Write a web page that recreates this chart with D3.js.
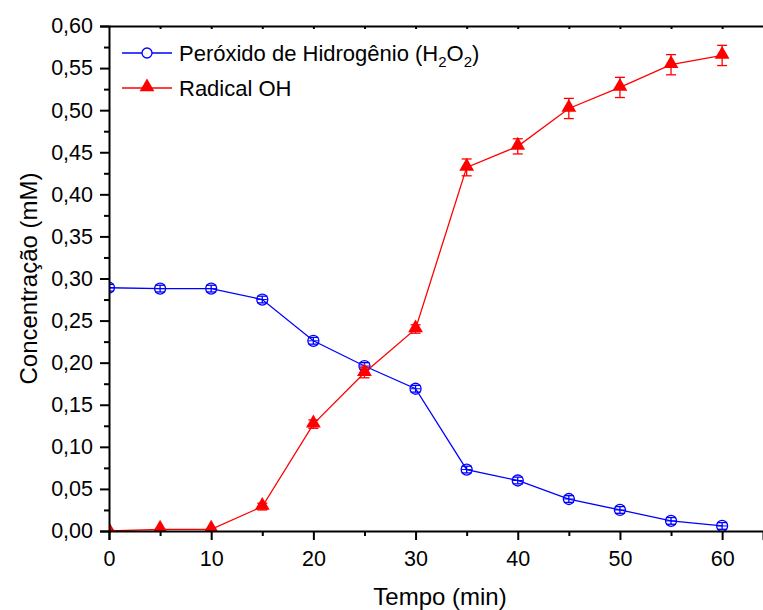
<!DOCTYPE html>
<html>
<head>
<meta charset="utf-8">
<script src="https://cdn.jsdelivr.net/npm/d3@7"></script>
<style>
  body { margin: 0; background: #fff; }
  svg text { font-family: "Liberation Sans", Arial, sans-serif; fill: #000; }
</style>
</head>
<body>
<div id="chart"></div>
<script>
(function () {
    'use strict';

    var tempo = [0, 5, 10, 15, 20, 25, 30, 35, 40, 45, 50, 55, 60];
    var h2o2 = [0.289, 0.288, 0.288, 0.275, 0.226, 0.196, 0.169, 0.073, 0.060, 0.038, 0.025, 0.012, 0.006];
    var h2o2Err = [0.004, 0.004, 0.004, 0.004, 0.004, 0.004, 0.004, 0.004, 0.004, 0.004, 0.004, 0.004, 0.004];
    var oh = [0.000, 0.002, 0.002, 0.029, 0.127, 0.188, 0.240, 0.432, 0.457, 0.502, 0.527, 0.554, 0.565];
    var ohErr = [0.001, 0.001, 0.001, 0.004, 0.005, 0.006, 0.005, 0.010, 0.009, 0.012, 0.012, 0.012, 0.012];
    var xTicks = [0, 10, 20, 30, 40, 50, 60];
    var yTicks = [0, 0.05, 0.10, 0.15, 0.20, 0.25, 0.30, 0.35, 0.40, 0.45, 0.50, 0.55, 0.60];

    var width = 763;
    var height = 610;
    var margin = {top: 26, right: 0, bottom: 79, left: 109};

    var svg = d3.select('#chart')
        .append('svg')
        .attr('width', width)
        .attr('height', height);

    var x = d3.scaleLinear().domain([0, 64]).range([margin.left, width - margin.right]);
    var y = d3.scaleLinear().domain([0, 0.6]).range([height - margin.bottom, margin.top]);

    svg.append('clipPath').attr('id', 'plot-clip')
        .append('rect')
        .attr('x', x(0)).attr('y', y(0.6))
        .attr('width', x(64) - x(0)).attr('height', y(0) - y(0.6));

    var plot = svg.append('g').attr('clip-path', 'url(#plot-clip)');

    var line = d3.line()
        .x(function (d) { return x(d[0]); })
        .y(function (d) { return y(d[1]); });

    function series(vals, errs, color) {
        var pts = tempo.map(function (t, i) { return [t, vals[i], errs[i]]; });
        var g = plot.append('g');
        g.append('path')
            .datum(pts)
            .attr('d', line)
            .attr('fill', 'none')
            .attr('stroke', color)
            .attr('stroke-width', 1.3);
        var eb = g.selectAll('g.err').data(pts).enter().append('g').attr('class', 'err')
            .attr('stroke', color).attr('stroke-width', 1.3);
        eb.append('line')
            .attr('x1', function (d) { return x(d[0]); })
            .attr('x2', function (d) { return x(d[0]); })
            .attr('y1', function (d) { return y(d[1] - d[2]); })
            .attr('y2', function (d) { return y(d[1] + d[2]); });
        [-1, 1].forEach(function (s) {
            eb.append('line')
                .attr('x1', function (d) { return x(d[0]) - 5; })
                .attr('x2', function (d) { return x(d[0]) + 5; })
                .attr('y1', function (d) { return y(d[1] + s * d[2]); })
                .attr('y2', function (d) { return y(d[1] + s * d[2]); });
        });
        return {g: g, pts: pts};
    }

    var triangle = d3.symbol().type(d3.symbolTriangle).size(95);

    var s1 = series(h2o2, h2o2Err, '#0000ff');
    s1.g.selectAll('circle').data(s1.pts).enter().append('circle')
        .attr('cx', function (d) { return x(d[0]); })
        .attr('cy', function (d) { return y(d[1]); })
        .attr('r', 5.5)
        .attr('fill', 'none')
        .attr('stroke', '#0000ff')
        .attr('stroke-width', 1.3);
    s1.g.selectAll('line.h').data(s1.pts).enter().append('line')
        .attr('x1', function (d) { return x(d[0]) - 5; })
        .attr('x2', function (d) { return x(d[0]) + 5; })
        .attr('y1', function (d) { return y(d[1]); })
        .attr('y2', function (d) { return y(d[1]); })
        .attr('stroke', '#0000ff')
        .attr('stroke-width', 1);

    var s2 = series(oh, ohErr, '#ff0000');
    s2.g.selectAll('path.sym').data(s2.pts).enter().append('path')
        .attr('class', 'sym')
        .attr('d', triangle)
        .attr('transform', function (d) { return 'translate(' + x(d[0]) + ',' + (y(d[1]) - 1) + ')'; })
        .attr('fill', '#ff0000');

    var fmt = function (d) { return d3.format('.2f')(d).replace('.', ','); };

    // x axis
    var gx = svg.append('g')
        .attr('transform', 'translate(0,' + y(0) + ')')
        .call(d3.axisBottom(x).tickValues(xTicks).tickSize(9).tickPadding(11).tickFormat(d3.format('d')));
    gx.selectAll('text').attr('font-size', 21.5).style('font-family', '"Liberation Sans", Arial, sans-serif');
    svg.append('g')
        .attr('transform', 'translate(0,' + y(0) + ')')
        .call(d3.axisBottom(x).tickValues([5, 15, 25, 35, 45, 55]).tickSize(5).tickFormat(''))
        .select('.domain').remove();

    // y axis
    var gy = svg.append('g')
        .attr('transform', 'translate(' + x(0) + ',0)')
        .call(d3.axisLeft(y).tickValues(yTicks).tickSize(9).tickPadding(7).tickFormat(fmt));
    gy.selectAll('text').attr('font-size', 21.5).style('font-family', '"Liberation Sans", Arial, sans-serif');
    svg.append('g')
        .attr('transform', 'translate(' + x(0) + ',0)')
        .call(d3.axisLeft(y).tickValues(d3.range(0.025, 0.6, 0.05)).tickSize(5).tickFormat(''))
        .select('.domain').remove();

    // top border
    svg.append('g')
        .attr('transform', 'translate(0,' + y(0.6) + ')')
        .call(d3.axisBottom(x).tickValues(d3.range(5, 65, 5)).tickSize(3).tickSizeOuter(0).tickFormat(''));

    svg.selectAll('.domain, .tick line').attr('stroke', '#000').attr('stroke-width', 2);

    // axis titles
    svg.append('text')
        .attr('x', 440)
        .attr('y', 605)
        .attr('text-anchor', 'middle')
        .attr('font-size', 24)
        .text('Tempo (min)');
    svg.append('text')
        .attr('transform', 'translate(37,' + y(0.3) + ') rotate(-90)')
        .attr('text-anchor', 'middle')
        .attr('font-size', 24)
        .text('Concentração (mM)');

    // legend
    var leg = svg.append('g');
    leg.append('line').attr('x1', 122).attr('x2', 172).attr('y1', 53).attr('y2', 53)
        .attr('stroke', '#0000ff').attr('stroke-width', 1.3);
    leg.append('circle').attr('cx', 147).attr('cy', 53).attr('r', 5)
        .attr('fill', '#fff').attr('stroke', '#0000ff').attr('stroke-width', 1.3);
    var t1 = leg.append('text').attr('x', 179).attr('y', 61).attr('font-size', 22);
    t1.append('tspan').text('Peróxido de Hidrogênio (H');
    t1.append('tspan').attr('font-size', 15).attr('dy', 6).text('2');
    t1.append('tspan').attr('dy', -6).text('O');
    t1.append('tspan').attr('font-size', 15).attr('dy', 6).text('2');
    t1.append('tspan').attr('dy', -6).text(')');

    leg.append('line').attr('x1', 122).attr('x2', 172).attr('y1', 88).attr('y2', 88)
        .attr('stroke', '#ff0000').attr('stroke-width', 1.3);
    leg.append('path').attr('d', triangle).attr('transform', 'translate(147,87)').attr('fill', '#ff0000');
    leg.append('text').attr('x', 179).attr('y', 96).attr('font-size', 22).text('Radical OH');
}());
</script>
</body>
</html>
